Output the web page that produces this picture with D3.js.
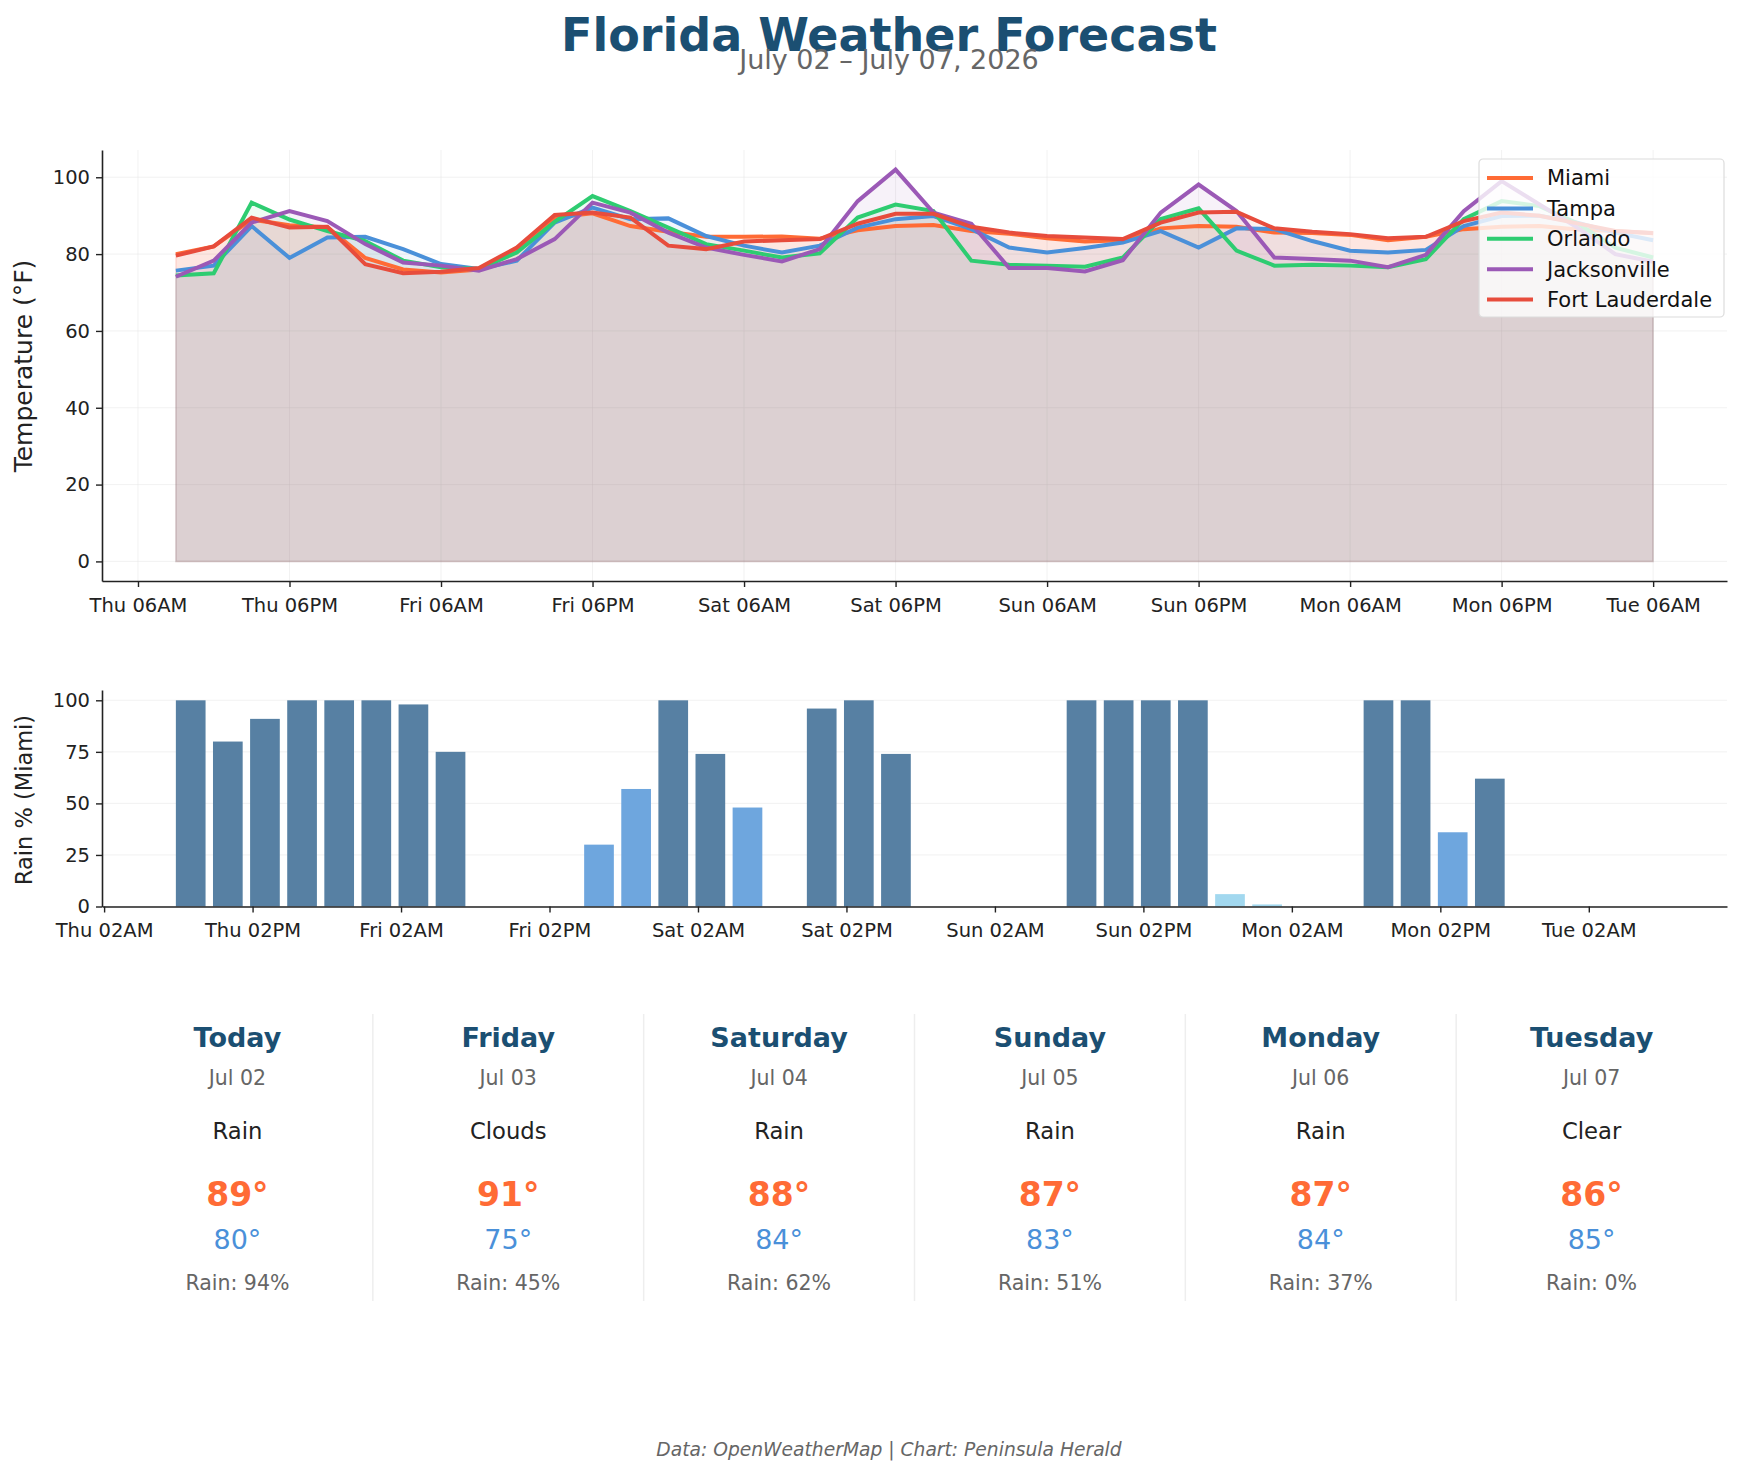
<!DOCTYPE html>
<html>
<head>
<meta charset="utf-8">
<script src="https://cdn.jsdelivr.net/npm/d3@7"></script>
<style>
  body { margin: 0; background: #fff; }
  svg { font-family: "DejaVu Sans", sans-serif; display: block; }
</style>
</head>
<body>
<svg id="chart" width="1744" height="1474"></svg>
<script>
// forecast times (3-hourly)
const times = [
  "2026-07-02T09:00", "2026-07-02T12:00", "2026-07-02T15:00", "2026-07-02T18:00", "2026-07-02T21:00",
  "2026-07-03T00:00", "2026-07-03T03:00", "2026-07-03T06:00", "2026-07-03T09:00", "2026-07-03T12:00",
  "2026-07-03T15:00", "2026-07-03T18:00", "2026-07-03T21:00", "2026-07-04T00:00", "2026-07-04T03:00",
  "2026-07-04T06:00", "2026-07-04T09:00", "2026-07-04T12:00", "2026-07-04T15:00", "2026-07-04T18:00",
  "2026-07-04T21:00", "2026-07-05T00:00", "2026-07-05T03:00", "2026-07-05T06:00", "2026-07-05T09:00",
  "2026-07-05T12:00", "2026-07-05T15:00", "2026-07-05T18:00", "2026-07-05T21:00", "2026-07-06T00:00",
  "2026-07-06T03:00", "2026-07-06T06:00", "2026-07-06T09:00", "2026-07-06T12:00", "2026-07-06T15:00",
  "2026-07-06T18:00", "2026-07-06T21:00", "2026-07-07T00:00", "2026-07-07T03:00", "2026-07-07T06:00"
];

const cities = ["Miami", "Tampa", "Orlando", "Jacksonville", "Fort Lauderdale"];
const cityColors = ["#FF6B35", "#4A90D9", "#2ECC71", "#9B59B6", "#E74C3C"];

const miami = [80, 82, 89, 87.5, 87, 79, 76, 75.2, 76, 81.5, 89.5, 90.6, 87.3, 85.8, 84.5, 84.5, 84.6, 84, 86.2, 87.3,
  87.6, 86, 85.3, 84.1, 83.3, 83.6, 86.7, 87.3, 87.1, 85.6, 85.5, 85, 83.6, 84.5, 86.5, 87.1, 87.3, 86.4, 86, 85.4];
const tampa = [75.7, 77, 87.3, 79, 84.3, 84.5, 81.3, 77.4, 76.1, 78.3, 88.2, 92.1, 89.1, 89.3, 84.7, 82.2, 80.4, 82.2, 86.9, 89.1,
  89.9, 86.5, 81.7, 80.4, 81.6, 83, 86, 81.7, 86.7, 86.5, 83.4, 80.9, 80.4, 81.1, 87.3, 89.9, 90, 88.2, 85.6, 83.6];
const orlando = [74.4, 75, 93.4, 89, 86, 83.4, 78.3, 76.6, 76.1, 80.4, 88.4, 95.1, 91.2, 86.9, 82.6, 80.9, 79.1, 80.2, 89.5, 92.9,
  91.2, 78.3, 77.2, 77, 76.7, 79.1, 89.1, 91.9, 80.9, 77, 77.2, 77, 76.6, 78.7, 89.1, 93.8, 92.5, 88, 81.7, 79.1];
const jacksonville = [74.1, 78.3, 88.2, 91.2, 88.6, 82.6, 77.8, 77, 75.7, 78.7, 83.9, 93.4, 90.8, 85.6, 81.7, 79.8, 78.1, 81.3, 93.8, 102,
  90.8, 87.9, 76.4, 76.4, 75.5, 78.4, 90.8, 98.1, 91.2, 79.1, 78.7, 78.3, 76.6, 79.8, 91.2, 99, 92.9, 86.9, 80, 78];
const fortLauderdale = [79.6, 82, 89.5, 86.9, 87.1, 77.4, 75, 75.4, 76.4, 81.7, 90.2, 90.8, 89.5, 82.2, 81.3, 83.3, 83.6, 83.9, 87.9, 90.5,
  90.5, 87.1, 85.6, 84.7, 84.3, 83.9, 88.2, 90.8, 91, 86.7, 85.8, 85.2, 84.1, 84.5, 88.6, 90.8, 90, 88, 86, 85.5];

// Miami rain probability (%)
const rainMiami = [100, 80, 91, 100, 100, 100, 98, 75, 0, 0, 0, 30, 57, 100, 74, 48, 0, 96, 100, 74,
  0, 0, 0, 0, 100, 100, 100, 100, 6, 1, 0, 0, 100, 100, 36, 62, 0, 0, 0, 0];

const tempTicks = [0, 20, 40, 60, 80, 100];
const rainTicks = [0, 25, 50, 75, 100];

// daily summary cards
const dayNames = ["Today", "Friday", "Saturday", "Sunday", "Monday", "Tuesday"];
const dayDates = ["Jul 02", "Jul 03", "Jul 04", "Jul 05", "Jul 06", "Jul 07"];
const conditions = ["Rain", "Clouds", "Rain", "Rain", "Rain", "Clear"];
const highs = [89, 91, 88, 87, 87, 86];
const lows = [80, 75, 84, 83, 84, 85];
const rainDaily = [94, 45, 62, 51, 37, 0];

const series = [miami, tampa, orlando, jacksonville, fortLauderdale];
const parse = d3.timeParse("%Y-%m-%dT%H:%M");
const dates = times.map(parse);
const hour = 3600 * 1000;
const t0 = dates[0], tN = dates[dates.length - 1];

const svg = d3.select("#chart");

// titles
svg.append("text")
  .attr("x", 889).attr("y", 51)
  .attr("text-anchor", "middle")
  .style("font-size", "46px").style("font-weight", "bold")
  .style("fill", "#1B4F72")
  .text("Florida Weather Forecast");

svg.append("text")
  .attr("x", 889).attr("y", 69)
  .attr("text-anchor", "middle")
  .style("font-size", "27px")
  .style("fill", "#666")
  .text("July 02 \u2013 July 07, 2026");

/* temperature chart */
const left = 102, right = 1727;
const span = tN - t0;
const xT = d3.scaleTime()
  .domain([new Date(+t0 - span * 0.05), new Date(+tN + span * 0.05)])
  .range([left, right]);
const yT = d3.scaleLinear().domain([-5.1, 107.1]).range([581, 150]);

const tempXTicks = d3.timeHour.filter(d => d.getHours() % 12 === 6).range(xT.domain()[0], xT.domain()[1]);
const fmt = d3.timeFormat("%a %I%p");

// grid
const gT = svg.append("g");
gT.selectAll(".vg").data(tempXTicks).join("line")
  .attr("x1", d => xT(d)).attr("x2", d => xT(d))
  .attr("y1", 150).attr("y2", 581)
  .attr("stroke", "#e6e6e6").attr("stroke-opacity", 0.5);
gT.selectAll(".hg").data(tempTicks).join("line")
  .attr("x1", left).attr("x2", right)
  .attr("y1", d => yT(d)).attr("y2", d => yT(d))
  .attr("stroke", "#e6e6e6").attr("stroke-opacity", 0.5);

const area = d3.area()
  .x((d, i) => xT(dates[i]))
  .y0(yT(0))
  .y1(d => yT(d));
const line = d3.line()
  .x((d, i) => xT(dates[i]))
  .y(d => yT(d));

series.forEach((s, k) => {
  svg.append("path")
    .datum(s)
    .attr("d", area)
    .attr("fill", cityColors[k]).attr("fill-opacity", 0.08)
    .attr("stroke", cityColors[k]).attr("stroke-opacity", 0.08).attr("stroke-width", 1.5);
});
series.forEach((s, k) => {
  svg.append("path")
    .datum(s)
    .attr("d", line)
    .attr("fill", "none")
    .attr("stroke", cityColors[k])
    .attr("stroke-width", 4)
    .attr("stroke-linejoin", "miter");
});

function styleAxis(g) {
  g.selectAll("path.domain").attr("stroke", "#222").attr("stroke-width", 1.6);
  g.selectAll(".tick line").attr("stroke", "#222").attr("stroke-width", 1.4);
  g.selectAll(".tick text").style("font-size", "19.5px").style("fill", "#222")
    .style("font-family", "DejaVu Sans, sans-serif");
}

svg.append("g")
  .attr("transform", "translate(0,581)")
  .call(d3.axisBottom(xT).tickValues(tempXTicks).tickFormat(fmt).tickSize(6).tickSizeOuter(0).tickPadding(11))
  .call(styleAxis);
svg.append("g")
  .attr("transform", `translate(${left},0)`)
  .call(d3.axisLeft(yT).tickValues(tempTicks).tickSize(6).tickSizeOuter(0).tickPadding(6))
  .call(styleAxis);

svg.append("text")
  .attr("transform", "translate(32,366) rotate(-90)")
  .attr("text-anchor", "middle")
  .style("font-size", "25px").style("fill", "#222")
  .text("Temperature (\u00b0F)");

// legend
const lg = svg.append("g").attr("transform", "translate(1479,159)");
lg.append("rect")
  .attr("width", 245).attr("height", 158).attr("rx", 4)
  .attr("fill", "#fff").attr("fill-opacity", 0.8)
  .attr("stroke", "#dcdcdc").attr("stroke-width", 1.2);
cities.forEach((c, k) => {
  const yy = 19 + k * 30.4;
  lg.append("line")
    .attr("x1", 8).attr("x2", 54).attr("y1", yy).attr("y2", yy)
    .attr("stroke", cityColors[k]).attr("stroke-width", 4);
  lg.append("text")
    .attr("x", 68).attr("y", yy).attr("dy", "0.35em")
    .style("font-size", "21px").style("fill", "#111")
    .text(c);
});

/* rain bar chart */
const bHalf = 1.2 * hour;
const bSpan = (+tN + bHalf) - (+t0 - bHalf);
const xB = d3.scaleTime()
  .domain([new Date(+t0 - bHalf - bSpan * 0.05), new Date(+tN + bHalf + bSpan * 0.05)])
  .range([left, right]);
const yB = d3.scaleLinear().domain([0, 105]).range([906.5, 690]);

svg.append("g").selectAll("line").data(rainTicks).join("line")
  .attr("x1", left).attr("x2", right)
  .attr("y1", d => yB(d)).attr("y2", d => yB(d))
  .attr("stroke", "#e6e6e6").attr("stroke-opacity", 0.5);

function barColor(v) {
  if (v >= 60) return "#5780A3";
  if (v >= 20) return "#6EA6DE";
  return "#A2D8EF";
}

svg.append("g").selectAll("rect").data(rainMiami).join("rect")
  .attr("x", (d, i) => xB(new Date(+dates[i] - bHalf)))
  .attr("width", (d, i) => xB(new Date(+dates[i] + bHalf)) - xB(new Date(+dates[i] - bHalf)))
  .attr("y", d => yB(d))
  .attr("height", d => yB(0) - yB(d))
  .attr("fill", d => barColor(d));

const rainXTicks = d3.timeHour.filter(d => d.getHours() % 12 === 2).range(xB.domain()[0], xB.domain()[1]);

svg.append("g")
  .attr("transform", "translate(0,906.5)")
  .call(d3.axisBottom(xB).tickValues(rainXTicks).tickFormat(fmt).tickSize(6).tickSizeOuter(0).tickPadding(11))
  .call(styleAxis);
svg.append("g")
  .attr("transform", `translate(${left},0)`)
  .call(d3.axisLeft(yB).tickValues(rainTicks).tickSize(6).tickSizeOuter(0).tickPadding(6))
  .call(styleAxis);

svg.append("text")
  .attr("transform", "translate(32,800) rotate(-90)")
  .attr("text-anchor", "middle")
  .style("font-size", "22.5px").style("fill", "#222")
  .text("Rain % (Miami)");

/* daily cards */
const colW = (right - left) / 6;
const cards = svg.append("g");
for (let k = 1; k < 6; k++) {
  cards.append("line")
    .attr("x1", left + colW * k).attr("x2", left + colW * k)
    .attr("y1", 1014).attr("y2", 1301)
    .attr("stroke", "#eee").attr("stroke-width", 1.5);
}
dayNames.forEach((name, k) => {
  const cx = left + colW * (k + 0.5);
  const g = cards.append("g").attr("text-anchor", "middle");
  g.append("text").attr("x", cx).attr("y", 1038).attr("dy", "0.35em")
    .style("font-size", "27px").style("font-weight", "bold").style("fill", "#1B4F72").text(name);
  g.append("text").attr("x", cx).attr("y", 1078).attr("dy", "0.35em")
    .style("font-size", "20.5px").style("fill", "#666").text(dayDates[k]);
  g.append("text").attr("x", cx).attr("y", 1131).attr("dy", "0.35em")
    .style("font-size", "22.7px").style("fill", "#222").text(conditions[k]);
  g.append("text").attr("x", cx).attr("y", 1194).attr("dy", "0.35em")
    .style("font-size", "33px").style("font-weight", "bold").style("fill", "#FF6B35").text(highs[k] + "\u00b0");
  g.append("text").attr("x", cx).attr("y", 1240).attr("dy", "0.35em")
    .style("font-size", "27px").style("fill", "#4A90D9").text(lows[k] + "\u00b0");
  g.append("text").attr("x", cx).attr("y", 1283).attr("dy", "0.35em")
    .style("font-size", "20.5px").style("fill", "#666").text("Rain: " + rainDaily[k] + "%");
});

svg.append("text")
  .attr("x", 889).attr("y", 1449).attr("dy", "0.35em")
  .attr("text-anchor", "middle")
  .style("font-size", "18.7px").style("font-style", "italic").style("fill", "#666")
  .text("Data: OpenWeatherMap | Chart: Peninsula Herald");
</script>
</body>
</html>
